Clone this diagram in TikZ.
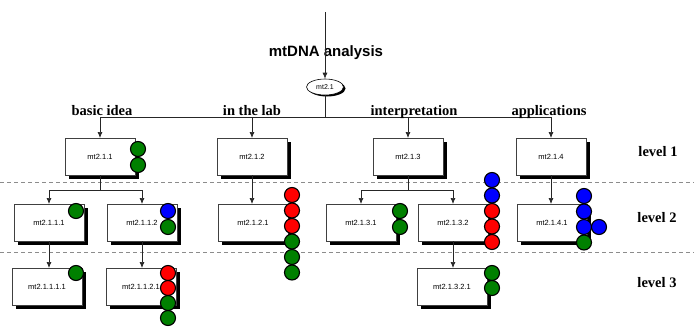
\documentclass[tikz,border=0pt]{standalone}
\usepackage{fontspec}
\setmainfont{Liberation Serif}
\setsansfont{Liberation Sans}
\usetikzlibrary{shapes.geometric,arrows.meta,backgrounds}
\definecolor{dgreen}{RGB}{0,128,0}
\tikzset{
  box/.style={rectangle,draw=black!75,line width=0.6pt,fill=white,anchor=north west,
    minimum width=70pt,minimum height=37pt,inner sep=0pt,outer sep=0pt,
    font=\sffamily\fontsize{7.5}{8}\selectfont},
  oval/.style={ellipse,draw=black,line width=0.6pt,fill=white,minimum width=37pt,minimum height=16pt,
    inner sep=0pt,font=\sffamily\fontsize{7}{8}\selectfont},
  shade/.style={fill=black},
  dot/.style={circle,draw=black,line width=1.1pt,minimum size=15pt,inner sep=0pt},
  conn/.style={draw=black!85,line width=0.7pt},
  arr/.style={conn,-{Latex[length=6pt,width=5pt]}},
  cat/.style={font=\bfseries\fontsize{14.5}{16}\selectfont,anchor=base},
  lev/.style={font=\bfseries\fontsize{14.5}{16}\selectfont},
  sep/.style={draw=black!45,line width=0.8pt,dash pattern=on 4pt off 3pt}
}
\begin{document}
\begin{tikzpicture}[x=1pt,y=-1pt]
\useasboundingbox (0,0) rectangle (694,327);
% separators
\coordinate (s1a) at (0,182); \coordinate (s1b) at (694,182);
\coordinate (s2a) at (0,252); \coordinate (s2b) at (694,252);
\draw[sep] (s1a) -- (s1b);
\draw[sep] (s2a) -- (s2b);
% title and root
\node[font=\sffamily\bfseries\fontsize{15}{17}\selectfont] (title) at (326,53) {mtDNA analysis};
\node[oval] (root) at (325,87) {mt2.1};
\coordinate (top) at (325,12);
\draw[arr] (top) -- (root.north);
% level 1 boxes
\node[box] (n211) at (65,138) {mt2.1.1};
\node[box] (n212) at (217,138) {mt2.1.2};
\node[box] (n213) at (373,138) {mt2.1.3};
\node[box] (n214) at (516,138) {mt2.1.4};
% level 2 boxes
\node[box] (n2111) at (14,204) {mt2.1.1.1};
\node[box] (n2112) at (107,204) {mt2.1.1.2};
\node[box] (n2121) at (218,204) {mt2.1.2.1};
\node[box] (n2131) at (326,204) {mt2.1.3.1};
\node[box] (n2132) at (418,204) {mt2.1.3.2};
\node[box] (n2141) at (517,204) {mt2.1.4.1};
% level 3 boxes
\node[box] (n21111) at (12,268) {mt2.1.1.1.1};
\node[box] (n21121) at (106,268) {mt2.1.1.2.1};
\node[box] (n21321) at (417,268) {mt2.1.3.2.1};
% shadows
\begin{pgfonlayer}{background}
\foreach \b in {n211,n212,n213,n214,n2111,n2112,n2121,n2131,n2132,n2141,n21111,n21121,n21321}
  \fill[shade] ([shift={(3.5,3.5)}]\b.south west) rectangle ([shift={(3.5,3.5)}]\b.north east);
\fill[shade] ([shift={(2,1.5)}]root.center) ellipse [x radius=18.5pt,y radius=8pt];
\end{pgfonlayer}
% bus from root
\coordinate (bus) at (325,117);
\draw[conn] (root.south) -- (bus);
\foreach \t in {n211,n212,n213,n214} \draw[arr] (bus) -| (\t.north);
% category labels
\node[cat] (l1) at (102,115) {basic idea};
\node[cat] (l2) at (252,115) {in the lab};
\node[cat] (l3) at (414,115) {interpretation};
\node[cat] (l4) at (549,115) {applications};
% level 1 -> level 2
\path (n211.south) ++(0,15) coordinate (j1);
\draw[conn] (n211.south) -- (j1);
\draw[arr] (j1) -| (n2111.north);
\draw[arr] (j1) -| (n2112.north);
\draw[arr] (n212.south) -- (n212.south |- n2121.north);
\path (n213.south) ++(0,15) coordinate (j3);
\draw[conn] (n213.south) -- (j3);
\draw[arr] (j3) -| (n2131.north);
\draw[arr] (j3) -| (n2132.north);
\draw[arr] (n214.south) -- (n214.south |- n2141.north);
% level 2 -> level 3
\draw[arr] (n2111.south) -- (n2111.south |- n21111.north);
\draw[arr] (n2112.south) -- (n2112.south |- n21121.north);
\draw[arr] (n2132.south) -- (n2132.south |- n21321.north);
% level labels
\node[lev] (lv1) at (658,152) {level 1};
\node[lev] (lv2) at (657,218) {level 2};
\node[lev] (lv3) at (657,283) {level 3};
% dots
\node[dot,fill=dgreen] (d211a) at (138,149) {};
\node[dot,fill=dgreen] (d211b) at (138,165) {};
\node[dot,fill=dgreen] (d2111a) at (76,211) {};
\node[dot,fill=blue] (d2112a) at (168,211) {};
\node[dot,fill=dgreen] (d2112b) at (168,227) {};
\foreach \c [count=\i] in {red,red,red,dgreen,dgreen,dgreen}
  \node[dot,fill=\c] (d2121-\i) at ({292},{195+15.5*(\i-1)}) {};
\node[dot,fill=dgreen] (d2131a) at (400,211) {};
\node[dot,fill=dgreen] (d2131b) at (400,227) {};
\foreach \c [count=\i] in {blue,blue,red,red,red}
  \node[dot,fill=\c] (d2132-\i) at ({492},{180+15.5*(\i-1)}) {};
\foreach \c [count=\i] in {blue,blue,blue,dgreen}
  \node[dot,fill=\c] (d2141-\i) at ({584},{196+15.5*(\i-1)}) {};
\node[dot,fill=blue] (d2141x) at (599,227) {};
\node[dot,fill=dgreen] (d21111a) at (76,273) {};
\foreach \c [count=\i] in {red,red,dgreen,dgreen}
  \node[dot,fill=\c] (d21121-\i) at ({168},{273+15*(\i-1)}) {};
\node[dot,fill=dgreen] (d21321a) at (492,273) {};
\node[dot,fill=dgreen] (d21321b) at (492,288) {};
\end{tikzpicture}
\end{document}
